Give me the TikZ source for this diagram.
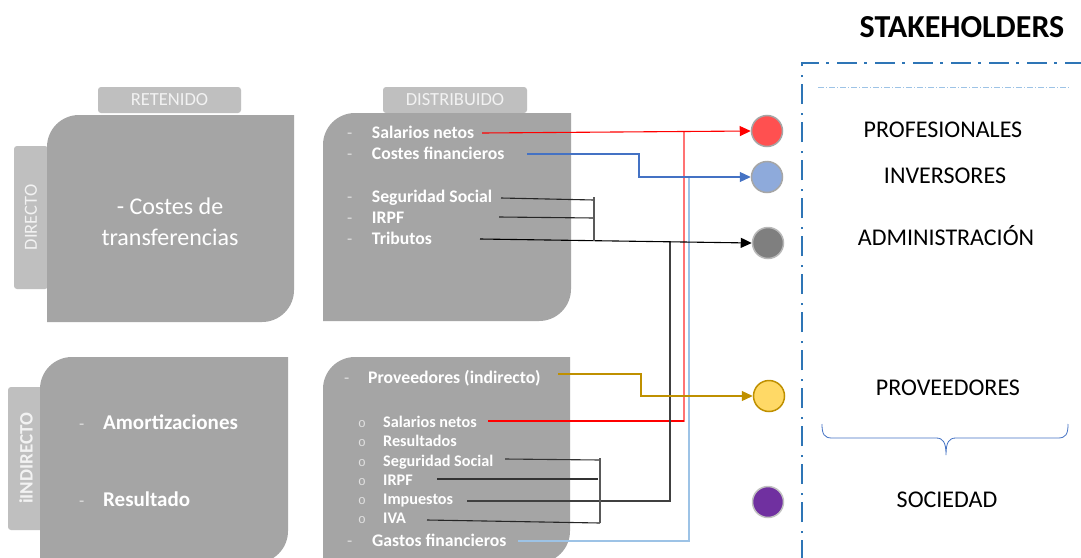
\documentclass[tikz,border=0pt]{standalone}
\usepackage{fontspec}
\setmainfont{Carlito}
\newfontfamily\bulletfont{Liberation Mono}
\usetikzlibrary{arrows.meta,calc}
\definecolor{boxgray}{HTML}{A5A5A5}
\definecolor{tabgray}{HTML}{BFBFBF}
\definecolor{tabtext}{HTML}{F2F2F2}
\definecolor{dashtext}{HTML}{E0E0E0}
\definecolor{cred}{HTML}{FF5050}
\definecolor{cblue}{HTML}{8EAADB}
\definecolor{cgrey}{HTML}{7F7F7F}
\definecolor{cyel}{HTML}{FFD966}
\definecolor{cyelb}{HTML}{BF9000}
\definecolor{cpur}{HTML}{7030A0}
\definecolor{cborder}{HTML}{A6A6A6}
\definecolor{lred}{HTML}{FF0000}
\definecolor{lblue}{HTML}{4472C4}
\definecolor{llblue}{HTML}{9DC3E6}
\definecolor{lgold}{HTML}{BF9000}
\definecolor{ldark}{HTML}{404040}
\definecolor{lbrack}{HTML}{595959}
\definecolor{frameblue}{HTML}{2E75B6}
\definecolor{bracecol}{HTML}{4472C4}
\newcommand\diagbox[4]{%
  \fill[boxgray] (#1,#4) -- (#1,{#2+32}) .. controls (#1,{#2+14.3}) and ({#1+14.3},#2) .. ({#1+32},#2)
    -- (#3,#2) -- (#3,{#4-32}) .. controls (#3,{#4-14.3}) and ({#3-14.3},#4) .. ({#3-32},#4) -- cycle;}
\newcommand\dashb[1]{\makebox[#1][l]{\textcolor{dashtext}{\normalfont\fontsize{17}{20}\selectfont -}}}
\newcommand\circb{\makebox[25pt][l]{\textcolor{dashtext}{\bulletfont\mdseries\fontsize{13}{14}\selectfont o}}}
\begin{document}
\begin{tikzpicture}[x=1pt,y=-1pt,
  tab/.style={fill=tabgray,rounded corners=3pt,inner sep=0pt,text=tabtext,
    font=\fontsize{18.5}{20}\selectfont},
  bigtxt/.style={text=white,align=center,font=\fontsize{24}{31}\selectfont,inner sep=0pt},
  itemD/.style={anchor=west,inner sep=0pt,text=white,text height=11.4pt,text depth=0pt,
    font=\bfseries\fontsize{17.7}{20}\selectfont},
  itemS/.style={anchor=west,inner sep=0pt,text=white,text height=10.4pt,text depth=0pt,
    font=\bfseries\fontsize{16.2}{19}\selectfont},
  itemL/.style={anchor=west,inner sep=0pt,text=white,text height=13.5pt,text depth=0pt,
    font=\bfseries\fontsize{21}{24}\selectfont},
  stake/.style={inner sep=0pt,text height=15.5pt,text depth=0pt,font=\fontsize{24}{28}\selectfont},
  dot/.style={circle,minimum size=31pt,inner sep=0pt,line width=1.5pt},
  conn/.style={line width=1.1pt},
  tip/.style={-{Triangle[length=11pt,width=10pt]}},
  frame/.style={frameblue,line width=2.5pt,dash pattern=on 20pt off 7pt on 2.5pt off 8.5pt}]
\useasboundingbox[fill=white] (0,0) rectangle (1081,557);

% side tabs (behind boxes)
\node[tab,rotate=90,minimum width=143pt,minimum height=34pt] (tDir) at (31,217.5) {DIRECTO};
\node[tab,rotate=90,minimum width=143pt,minimum height=36pt,font=\bfseries\fontsize{19}{21}\selectfont] (tInd) at (26,458.5) {iINDIRECTO};
% top tabs
\node[tab,minimum width=143pt,minimum height=26pt] (tRet) at (169.5,100) {RETENIDO};
\node[tab,minimum width=144pt,minimum height=26pt] (tDis) at (455,100) {DISTRIBUIDO};

% boxes
\diagbox{47}{115}{294}{322}
\diagbox{323}{113}{571}{321}
\diagbox{40}{357}{288}{563}
\diagbox{323}{357}{570}{563}

% box texts
\node[bigtxt] (cost) at (170,222) {- Costes de\\transferencias};
\node[itemL] (amor) at (79,423) {\dashb{24pt}Amortizaciones};
\node[itemL] (resu) at (79,500) {\dashb{24pt}Resultado};

\node[itemD] (sal1) at (347,133) {\dashb{24.7pt}Salarios netos};
\node[itemD] (cos1) at (347,154) {\dashb{24.7pt}Costes financieros};
\node[itemD] (seg1) at (347,197) {\dashb{24.7pt}Seguridad Social};
\node[itemD] (irp1) at (347,218) {\dashb{24.7pt}IRPF};
\node[itemD] (tri1) at (347,239) {\dashb{24.7pt}Tributos};

\node[itemD] (prov) at (344,378) {\dashb{24pt}Proveedores (indirecto)};
\node[itemS] (sal2) at (358,422) {\circb Salarios netos};
\node[itemS] (res2) at (358,441) {\circb Resultados};
\node[itemS] (seg2) at (358,461) {\circb Seguridad Social};
\node[itemS] (irp2) at (358,480) {\circb IRPF};
\node[itemS] (imp2) at (358,499) {\circb Impuestos};
\node[itemS] (iva2) at (358,518) {\circb IVA};
\node[itemD] (gas) at (347,541) {\dashb{25pt}Gastos financieros};

% stakeholder frame
\node[font=\bfseries\fontsize{32}{36}\selectfont,inner sep=0pt,text height=20.5pt,text depth=0pt] (title) at (962,27) {STAKEHOLDERS};
\coordinate (frBL) at (802,560);
\coordinate (frTL) at (802,63);
\coordinate (frTR) at (1085,63);
\draw[frame] (frBL) -- (frTL) -- (frTR);
\coordinate (inL) at (818,87);
\coordinate (inR) at (1070,87);
\draw[llblue,line width=0.8pt,dash pattern=on 6pt off 2pt on 1pt off 2pt] (inL) -- (inR);

\node[stake] (sProf) at (943,130) {PROFESIONALES};
\node[stake] (sInv) at (945,176) {INVERSORES};
\node[stake] (sAdm) at (946,238) {ADMINISTRACIÓN};
\node[stake] (sProv) at (948,388) {PROVEEDORES};
\node[stake] (sSoc) at (947,500) {SOCIEDAD};

% brace
\draw[bracecol,line width=0.8pt] (822,424) .. controls (822,434) and (824,438) .. (832,438) -- (936,438)
  .. controls (943,438) and (946,442) .. (946,455) .. controls (946,442) and (949,438) .. (956,438)
  -- (1058,438) .. controls (1066,438) and (1068,434) .. (1068,424);

% stakeholder dots
\node[dot,fill=cred,draw=cborder] (cRed) at (767,131) {};
\node[dot,fill=cblue,draw=cborder] (cBlue) at (767,177) {};
\node[dot,fill=cgrey,draw=cborder!80!white] (cGrey) at (768,243) {};
\node[dot,fill=cyel,draw=cyelb] (cYel) at (769,396) {};
\node[dot,fill=cpur,draw=cborder!70!white] (cPur) at (768,502) {};

% connector anchor points
\coordinate (rS1) at (482,133);
\coordinate (bS1) at (527,154);
\coordinate (bBend) at (639,165);
\coordinate (ssS1) at (501,198);
\coordinate (ssE1) at (594,200);
\coordinate (irS1) at (499,217);
\coordinate (irE1) at (594,218);
\coordinate (trS1) at (480,239);
\coordinate (bk1T) at (594,197);
\coordinate (bk1B) at (594,241);
\coordinate (pS) at (558,374);
\coordinate (gBend) at (641,385);
\coordinate (rS2) at (488,421);
\coordinate (jRed) at (684,132);
\coordinate (ssS2) at (505,459);
\coordinate (ssE2) at (600,460);
\coordinate (irS2) at (437,479);
\coordinate (irE2) at (598,479);
\coordinate (imS2) at (467,501);
\coordinate (dgTop) at (670,241);
\coordinate (ivS2) at (427,520);
\coordinate (ivE2) at (600,523);
\coordinate (bk2T) at (600,458);
\coordinate (bk2B) at (600,523);
\coordinate (gS) at (518,541);
\coordinate (lbTop) at (689,177);

% connectors
\draw[conn,lred!55!white] (rS2) -| (jRed);
\draw[conn,lred] (rS2) -- (rS2 -| jRed);
\draw[conn,llblue] (gS) -| (lbTop);
\draw[conn,ldark] (imS2) -| (dgTop);
\draw[conn,lred,tip] (rS1) -- (cRed.west);
\draw[conn,lblue,tip] (bS1) -| (bBend) |- (cBlue.west);
\draw[conn,black,tip] (trS1) -- (cGrey.west);
\draw[conn,black!85!white] (ssS1) -- (ssE1);
\draw[conn,black!85!white] (irS1) -- (irE1);
\draw[conn,lbrack] (bk1T) -- (bk1B);
\draw[conn,lgold,tip] (pS) -| (gBend) |- (cYel.west);
\draw[conn,black!80!white] (ssS2) -- (ssE2);
\draw[conn,black!80!white] (irS2) -- (irE2);
\draw[conn,black!85!white] (ivS2) -- (ivE2);
\draw[conn,lbrack] (bk2T) -- (bk2B);
\end{tikzpicture}
\end{document}
